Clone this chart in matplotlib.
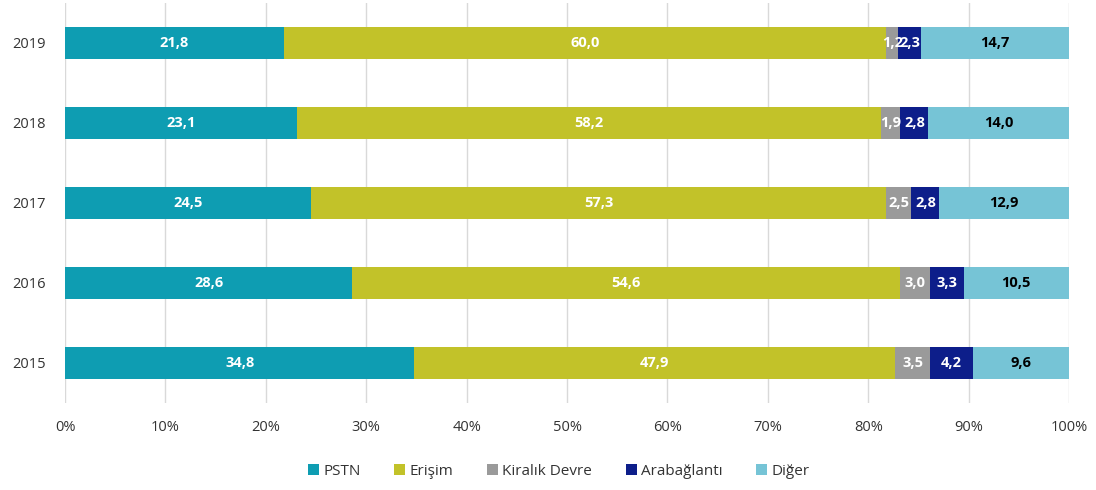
import numpy as np
import matplotlib.pyplot as plt

years = ['2015', '2016', '2017', '2018', '2019']
pstn = [34.8, 28.6, 24.5, 23.1, 21.8]
erisim = [47.9, 54.6, 57.3, 58.2, 60.0]
kiralik = [3.5, 3.0, 2.5, 1.9, 1.2]
arabaglanti = [4.2, 3.3, 2.8, 2.8, 2.3]
diger = [9.6, 10.5, 12.9, 14.0, 14.7]

series = [('PSTN', pstn, '#0e9db2', 'white'),
          ('Erişim', erisim, '#c2c229', 'white'),
          ('Kiralık Devre', kiralik, '#9a9a9a', 'white'),
          ('Arabağlantı', arabaglanti, '#0d1e8a', 'white'),
          ('Diğer', diger, '#76c4d6', 'black')]

plt.rcParams['font.family'] = ['Open Sans', 'DejaVu Sans']

fig = plt.figure(figsize=(10.96, 4.9), dpi=100)
ax = fig.add_axes([65/1096, 1 - 403/490, 1004/1096, 400/490])

y = np.arange(len(years))
left = np.zeros(len(years))
for name, vals, col, tcol in series:
    vals = np.array(vals)
    ax.barh(y, vals, left=left, height=0.4, color=col, label=name, zorder=3)
    for yi, l, v in zip(y, left, vals):
        ax.text(l + v / 2, yi, f'{v:.1f}'.replace('.', ','), ha='center', va='center',
                color=tcol, fontsize=10.5, fontweight='bold', zorder=4)
    left += vals

ax.set_xlim(0, 100)
ax.set_ylim(-0.5, 4.5)
ax.set_xticks(np.arange(0, 101, 10))
ax.set_xticklabels([f'{t}%' for t in range(0, 101, 10)], fontsize=10.5, color='#333333')
ax.set_yticks(y)
ax.set_yticklabels(years, fontsize=10.5, color='#333333')
ax.tick_params(length=0, pad=12)
ax.tick_params(axis='y', pad=14)
ax.grid(axis='x', color='#d9d9d9', linewidth=1, zorder=0)
for s in ax.spines.values():
    s.set_visible(False)

fig.legend(loc='lower center', bbox_to_anchor=(0.51, -0.005), ncol=5, frameon=False,
           fontsize=11, handlelength=0.7, handleheight=0.7, handletextpad=0.3,
           columnspacing=2.2, labelcolor='#333333')

fig.savefig('out.png', dpi=100)
